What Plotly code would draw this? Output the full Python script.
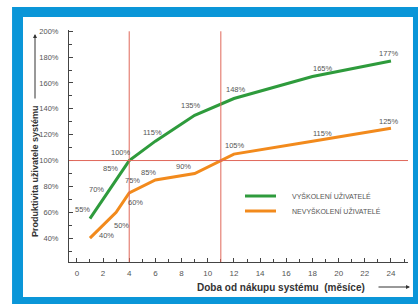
import plotly.graph_objects as go

months = [1, 2, 3, 4, 6, 9, 12, 18, 24]
trained = [55, 70, 85, 100, 115, 135, 148, 165, 177]
untrained = [40, 50, 60, 75, 85, 90, 105, 115, 125]
series_names = ["VYŠKOLENÍ UŽIVATELÉ", "NEVYŠKOLENÍ UŽIVATELÉ"]
ref_months = [4, 11]
ref_level = 100
x_ticks = list(range(0, 25, 2))
y_ticks = list(range(40, 201, 20))
y_tick_labels = [f"{v}%" for v in y_ticks]

GREEN = "#2e9b3c"
ORANGE = "#f28a1c"
RED = "#e0685a"
BLUE = "#0a96d8"
FONT = "Liberation Sans Narrow, Arial, sans-serif"
LABFONT = "Liberation Sans, Arial, sans-serif"

# label offsets in pixels (dx right, dy up) — styling only
off_tr = [(-7, 9), (-7, 10), (-6, 11), (-8, 8), (-3, 9), (-4, 10), (2, 9), (11, 8), (-2, 8)]
off_un = [(17, 3), (18, 0), (19, 10), (3, 12), (-7, 7), (-11, 7), (1, 9), (10, 8), (-2, 7)]

fig = go.Figure()
fig.add_trace(go.Scatter(x=months, y=trained, mode="lines", name=series_names[0],
                         line=dict(color=GREEN, width=3)))
fig.add_trace(go.Scatter(x=months, y=untrained, mode="lines", name=series_names[1],
                         line=dict(color=ORANGE, width=3)))

shapes = [
    dict(type="rect", xref="paper", yref="paper", x0=-0.168, x1=1.0295,
         y0=-0.25, y1=1.0991, fillcolor=BLUE, line=dict(width=0), layer="below"),
    dict(type="rect", xref="paper", yref="paper", x0=-0.1357, x1=1.0147,
         y0=-0.1509, y1=1.056, fillcolor="white", line=dict(width=0), layer="below"),
]
for m in ref_months:
    shapes.append(dict(type="line", xref="x", yref="y", x0=m, x1=m, y0=21.5, y1=200,
                       line=dict(color=RED, width=1)))
shapes.append(dict(type="line", xref="x", yref="y", x0=-0.6, x1=25.5, y0=ref_level,
                   y1=ref_level, line=dict(color=RED, width=1)))

annotations = []
for vals, offs in ((trained, off_tr), (untrained, off_un)):
    for m, v, (dx, dy) in zip(months, vals, offs):
        annotations.append(dict(x=m, y=v, xref="x", yref="y", text=f"{v}%",
                                showarrow=False, xanchor="center", yanchor="middle",
                                xshift=dx, yshift=dy,
                                font=dict(size=7.5, color="#555", family=LABFONT)))

# manual legend
leg_y = [196, 211]
for name, col, py in zip(series_names, [GREEN, ORANGE], leg_y):
    yp = (262 - py) / 232
    shapes.append(dict(type="line", xref="paper", yref="paper",
                       x0=(245 - 69) / 339, x1=(276 - 69) / 339, y0=yp, y1=yp,
                       line=dict(color=col, width=3)))
    annotations.append(dict(xref="paper", yref="paper", x=(290 - 69) / 339, y=yp,
                            xanchor="left", yanchor="middle", showarrow=False,
                            text=name, font=dict(size=7, color="#555", family=FONT)))

annotations += [
    dict(xref="paper", yref="paper", x=(195 - 69) / 339, y=(262 - 287) / 232,
         xanchor="left", yanchor="middle", showarrow=False,
         text="<b>Doba od nákupu systému  (měsíce)</b>",
         font=dict(size=10, color="#333", family="Arial, sans-serif")),
    dict(xref="paper", yref="paper", x=(410 - 69) / 339, y=(262 - 287) / 232,
         ax=-33, ay=0, showarrow=True, arrowhead=2, arrowsize=0.8, arrowwidth=1,
         arrowcolor="#333", text=""),
    dict(xref="paper", yref="paper", x=(35 - 69) / 339, y=(262 - 239) / 232,
         xanchor="center", yanchor="bottom", textangle=-90, showarrow=False,
         text="<b>Produktivita uživatele systému</b>",
         font=dict(size=9, color="#333", family="Arial, sans-serif")),
    dict(xref="paper", yref="paper", x=(35 - 69) / 339, y=(262 - 34) / 232,
         ax=0, ay=66, showarrow=True, arrowhead=2, arrowsize=0.8, arrowwidth=1,
         arrowcolor="#333", text=""),
]

fig.update_layout(
    width=420, height=304,
    margin=dict(l=69, r=12, t=30, b=42),
    paper_bgcolor="white", plot_bgcolor="rgba(0,0,0,0)",
    shapes=shapes, annotations=annotations,
    showlegend=False,
    font=dict(family=FONT, color="#555"),
)
fig.update_xaxes(range=[-0.6, 25.3], tickvals=x_ticks, showgrid=False, zeroline=False,
                 showline=True, linecolor="#444", linewidth=1,
                 ticks="inside", ticklen=4, tickcolor="#444",
                 minor=dict(dtick=1, ticks="inside", ticklen=3, tickcolor="#444"),
                 tickfont=dict(size=8, color="#555", family=FONT), ticklabelstandoff=3)
fig.update_yaxes(range=[21.5, 201], tickvals=y_ticks, ticktext=y_tick_labels,
                 showgrid=False, zeroline=False, showline=True, linecolor="#444",
                 linewidth=1, ticks="inside", ticklen=4, tickcolor="#444",
                 minor=dict(dtick=10, ticks="inside", ticklen=3, tickcolor="#444"),
                 tickfont=dict(size=7.5, color="#555", family=FONT), ticklabelstandoff=8)

fig.write_html("out.html", config={"displayModeBar": False},
               post_script="document.body.style.margin='0';")
